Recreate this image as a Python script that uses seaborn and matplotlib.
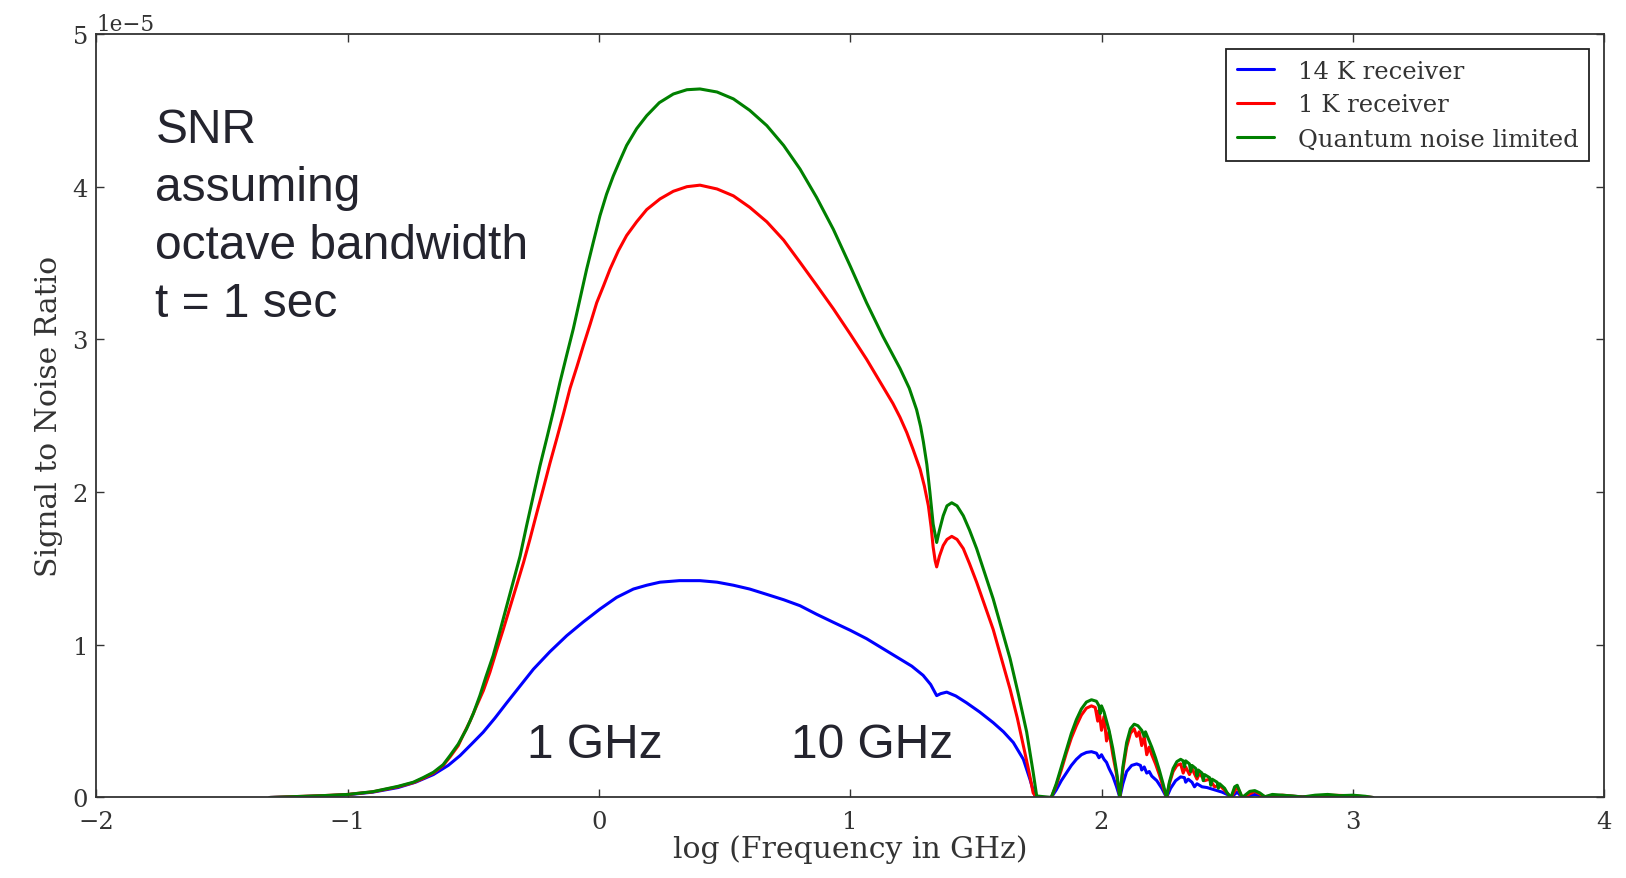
import matplotlib
matplotlib.use("Agg")
import matplotlib.pyplot as plt
import seaborn as sns
import numpy as np

# ---------------- data (log10 frequency in GHz, SNR in units of 1e-5) ----------------
x_blue = [-1.31, -1.2, -1.1, -1.0, -0.9, -0.8, -0.73, -0.659, -0.60, -0.553, -0.507, -0.461,
          -0.414, -0.367, -0.314, -0.261, -0.195, -0.128, -0.062, 0.004, 0.07, 0.137, 0.19,
          0.243, 0.32, 0.402, 0.47, 0.535, 0.60, 0.668, 0.735, 0.800, 0.866, 0.933, 1.0,
          1.065, 1.13, 1.198, 1.245, 1.290, 1.32, 1.344, 1.36, 1.384, 1.42, 1.463, 1.515,
          1.569, 1.61, 1.649, 1.689, 1.715, 1.735, 1.745, 1.80,
          1.82, 1.84, 1.86, 1.88, 1.90, 1.92, 1.94, 1.96, 1.98, 1.99, 2.0, 2.01, 2.02, 2.03,
          2.045, 2.06, 2.073,
          2.085, 2.10, 2.12, 2.14, 2.155, 2.16, 2.17, 2.18, 2.19, 2.20, 2.22, 2.24, 2.259,
          2.275, 2.295, 2.315, 2.33, 2.335, 2.345, 2.36, 2.37, 2.38, 2.40, 2.42, 2.45, 2.48,
          2.50, 2.515, 2.54, 2.56, 2.61, 2.65, 2.75, 2.85, 2.95, 3.08]
snr_blue = [0.0, 0.005, 0.01, 0.018, 0.035, 0.065, 0.10, 0.15, 0.21, 0.274, 0.35, 0.427,
            0.52, 0.62, 0.73, 0.84, 0.955, 1.06, 1.15, 1.234, 1.31, 1.365, 1.39,
            1.41, 1.42, 1.42, 1.41, 1.39, 1.365, 1.33, 1.295, 1.256, 1.20, 1.147, 1.095,
            1.04, 0.975, 0.907, 0.86, 0.80, 0.74, 0.667, 0.68, 0.69, 0.665, 0.62, 0.56,
            0.49, 0.43, 0.36, 0.25, 0.12, 0.01, 0.0, 0.0,
            0.05, 0.11, 0.16, 0.21, 0.25, 0.28, 0.295, 0.30, 0.29, 0.26, 0.28, 0.25, 0.23, 0.19,
            0.14, 0.07, 0.0,
            0.09, 0.17, 0.21, 0.22, 0.21, 0.18, 0.20, 0.16, 0.17, 0.14, 0.11, 0.06, 0.0,
            0.06, 0.11, 0.135, 0.13, 0.10, 0.12, 0.10, 0.07, 0.09, 0.07, 0.065, 0.05, 0.035,
            0.02, 0.0, 0.035, 0.0, 0.02, 0.003, 0.008, 0.003, 0.006, 0.0]

x_red = [-1.31, -1.2, -1.1, -1.0, -0.9, -0.8, -0.739, -0.70, -0.659, -0.62, -0.593, -0.56,
         -0.540, -0.513, -0.487, -0.46, -0.434, -0.408, -0.381, -0.355, -0.328, -0.30,
         -0.275, -0.248, -0.222, -0.195, -0.168, -0.14, -0.115, -0.088, -0.062, -0.035,
         -0.009, 0.018, 0.044, 0.077, 0.110, 0.15, 0.190, 0.243, 0.296, 0.35, 0.402, 0.47,
         0.535, 0.60, 0.668, 0.735, 0.800, 0.866, 0.933, 1.0, 1.065, 1.13, 1.17, 1.198,
         1.225, 1.25, 1.278, 1.295, 1.311, 1.322, 1.330, 1.338, 1.344, 1.355, 1.370, 1.385,
         1.404, 1.425, 1.450, 1.475, 1.503, 1.535, 1.569, 1.60, 1.636, 1.665, 1.689, 1.71,
         1.728, 1.742, 1.80,
         1.82, 1.84, 1.86, 1.88, 1.90, 1.92, 1.94, 1.96, 1.975, 1.985, 1.99, 2.0, 2.01,
         2.02, 2.03, 2.045, 2.06, 2.073,
         2.085, 2.10, 2.115, 2.13, 2.14, 2.15, 2.16, 2.17, 2.18, 2.19, 2.20, 2.215, 2.23,
         2.245, 2.259,
         2.27, 2.285, 2.30, 2.315, 2.325, 2.335, 2.35, 2.36, 2.38, 2.39, 2.41, 2.43, 2.45,
         2.47, 2.50, 2.515, 2.54, 2.56, 2.61, 2.65, 2.72, 2.80, 2.90, 3.0, 3.08]
snr_red = [0.0, 0.006, 0.012, 0.02, 0.037, 0.07, 0.097, 0.125, 0.16, 0.21, 0.265, 0.34,
           0.41, 0.50, 0.60, 0.70, 0.82, 0.96, 1.10, 1.24, 1.387, 1.54,
           1.69, 1.86, 2.02, 2.19, 2.35, 2.52, 2.68, 2.82, 2.96, 3.10,
           3.24, 3.35, 3.46, 3.58, 3.68, 3.77, 3.85, 3.92, 3.97, 4.0, 4.01, 3.985,
           3.94, 3.865, 3.77, 3.65, 3.505, 3.355, 3.20, 3.035, 2.87, 2.69, 2.58, 2.49,
           2.39, 2.28, 2.15, 2.04, 1.91, 1.77, 1.64, 1.55, 1.51, 1.58, 1.65, 1.69,
           1.71, 1.69, 1.63, 1.53, 1.41, 1.26, 1.10, 0.92, 0.71, 0.52, 0.34, 0.18,
           0.03, 0.0, 0.0,
           0.08, 0.18, 0.29, 0.39, 0.47, 0.54, 0.585, 0.60, 0.59, 0.50, 0.57, 0.44, 0.53,
           0.37, 0.43, 0.28, 0.15, 0.0,
           0.18, 0.33, 0.42, 0.45, 0.40, 0.43, 0.34, 0.40, 0.28, 0.33, 0.28, 0.22, 0.15,
           0.07, 0.0,
           0.09, 0.17, 0.21, 0.22, 0.16, 0.20, 0.15, 0.19, 0.12, 0.16, 0.11, 0.12, 0.07,
           0.08, 0.03, 0.0, 0.07, 0.0, 0.04, 0.005, 0.015, 0.003, 0.015, 0.012, 0.0]

x_green = [-1.31, -1.2, -1.1, -1.0, -0.9, -0.8, -0.739, -0.70, -0.659, -0.62, -0.593, -0.56,
           -0.527, -0.50, -0.474, -0.45, -0.421, -0.394, -0.367, -0.34, -0.314, -0.288,
           -0.261, -0.235, -0.208, -0.18, -0.155, -0.128, -0.102, -0.075, -0.049, -0.022,
           0.004, 0.03, 0.057, 0.083, 0.110, 0.15, 0.190, 0.24, 0.296, 0.35, 0.402, 0.47,
           0.535, 0.60, 0.668, 0.735, 0.800, 0.866, 0.933, 1.0, 1.065, 1.13, 1.198, 1.235,
           1.264, 1.28, 1.291, 1.305, 1.317, 1.330, 1.344, 1.355, 1.370, 1.385, 1.404, 1.425,
           1.450, 1.475, 1.503, 1.535, 1.569, 1.60, 1.636, 1.67, 1.702, 1.728, 1.742, 1.80,
           1.82, 1.84, 1.86, 1.88, 1.90, 1.92, 1.94, 1.96, 1.98, 1.99, 1.995, 2.0, 2.01,
           2.02, 2.03, 2.045, 2.06, 2.073,
           2.085, 2.10, 2.115, 2.13, 2.145, 2.16, 2.17, 2.175, 2.19, 2.20, 2.215, 2.23,
           2.245, 2.259,
           2.27, 2.285, 2.30, 2.315, 2.325, 2.33, 2.335, 2.35, 2.355, 2.36, 2.375, 2.38,
           2.385, 2.40, 2.405, 2.41, 2.43, 2.435, 2.44, 2.46, 2.465, 2.47, 2.49, 2.50,
           2.515, 2.53, 2.54, 2.55, 2.56, 2.59, 2.61, 2.63, 2.65, 2.68, 2.72, 2.76, 2.80,
           2.85, 2.90, 2.95, 3.0, 3.05, 3.08]
snr_green = [0.0, 0.006, 0.012, 0.02, 0.038, 0.073, 0.10, 0.13, 0.165, 0.215, 0.274, 0.35,
             0.449, 0.55, 0.667, 0.79, 0.93, 1.09, 1.256, 1.42, 1.58, 1.78,
             1.98, 2.17, 2.35, 2.54, 2.72, 2.90, 3.07, 3.27, 3.46, 3.64,
             3.81, 3.95, 4.07, 4.17, 4.27, 4.38, 4.465, 4.55, 4.607, 4.635, 4.64, 4.62,
             4.575, 4.50, 4.40, 4.27, 4.116, 3.93, 3.72, 3.48, 3.24, 3.02, 2.81, 2.68,
             2.54, 2.43, 2.33, 2.18, 2.00, 1.79, 1.67, 1.75, 1.845, 1.91, 1.93, 1.91,
             1.845, 1.75, 1.63, 1.47, 1.30, 1.12, 0.91, 0.67, 0.43, 0.165, 0.01, 0.0,
             0.09, 0.20, 0.31, 0.42, 0.51, 0.58, 0.625, 0.64, 0.63, 0.60, 0.55, 0.60, 0.56,
             0.50, 0.44, 0.32, 0.17, 0.0,
             0.20, 0.36, 0.45, 0.48, 0.47, 0.44, 0.40, 0.43, 0.37, 0.33, 0.26, 0.18,
             0.09, 0.0,
             0.10, 0.19, 0.235, 0.25, 0.24, 0.20, 0.24, 0.22, 0.17, 0.21, 0.19, 0.14,
             0.18, 0.16, 0.11, 0.15, 0.13, 0.08, 0.12, 0.10, 0.06, 0.09, 0.06, 0.03,
             0.0, 0.07, 0.08, 0.04, 0.0, 0.04, 0.045, 0.03, 0.005, 0.02, 0.015, 0.01, 0.003,
             0.015, 0.02, 0.012, 0.015, 0.008, 0.0]

series_labels = ["14 K receiver", "1 K receiver", "Quantum noise limited"]
series_colors = ["#0000ff", "#ff0000", "#008000"]
x_ticks = [-2, -1, 0, 1, 2, 3, 4]
y_ticks = [0, 1, 2, 3, 4, 5]

# ---------------- style ----------------
sns.set_style("ticks")
plt.rcParams["font.family"] = ["DejaVu Serif"]
plt.rcParams["axes.unicode_minus"] = True

fig = plt.figure(figsize=(16.26, 8.79), dpi=100)
ax = fig.add_axes([0.0593, 0.0916, 0.9272, 0.8686])

for xs, ys, lab, col in zip([x_blue, x_red, x_green], [snr_blue, snr_red, snr_green],
                            series_labels, series_colors):
    sns.lineplot(x=np.array(xs), y=np.array(ys) * 1e-5, ax=ax, color=col, label=lab,
                 linewidth=2.2, estimator=None, sort=False)

ax.set_xlim(-2, 4)
ax.set_ylim(0, 5e-5)
ax.set_xticks(x_ticks)
ax.set_yticks([v * 1e-5 for v in y_ticks])
ax.ticklabel_format(axis="y", style="sci", scilimits=(0, 0))
ax.yaxis.get_offset_text().set_fontsize(15.5)
ax.yaxis.get_offset_text().set_color("#333333")

ax.tick_params(axis="both", which="major", direction="in", length=6, width=1,
               top=True, right=True, labelsize=17.5, labelcolor="#333333",
               color="#333333")
ax.tick_params(axis="x", pad=9)
ax.tick_params(axis="y", pad=6)
for s in ax.spines.values():
    s.set_visible(True)
    s.set_linewidth(1.3)
    s.set_color("#333333")

ax.set_xlabel("log (Frequency in GHz)", fontsize=21.5, color="#333333", labelpad=1)
ax.set_ylabel("Signal to Noise Ratio", fontsize=21.5, color="#333333", labelpad=7)

annot_font = ["Liberation Sans", "DejaVu Sans"]
ax.text(-1.765, 4.52e-5, "SNR\nassuming\noctave bandwidth\nt = 1 sec", fontsize=34.5,
        family=annot_font, color="#24242e", ha="left", va="top", linespacing=1.37)
ax.text(-0.287, 0.265e-5, "1 GHz", fontsize=34.5, family=annot_font, color="#24242e",
        ha="left", va="baseline")
ax.text(0.765, 0.265e-5, "10 GHz", fontsize=34.5, family=annot_font, color="#24242e",
        ha="left", va="baseline")

leg = ax.legend(loc="upper right", fontsize=17.5, frameon=True, fancybox=False,
                edgecolor="#222222", framealpha=1, borderpad=0.45, labelspacing=0.45,
                handlelength=1.5, handletextpad=1.0, borderaxespad=0.6)
leg.get_frame().set_linewidth(1.3)
for t in leg.get_texts():
    t.set_color("#333333")

fig.savefig("out.png", dpi=100, facecolor="white")
